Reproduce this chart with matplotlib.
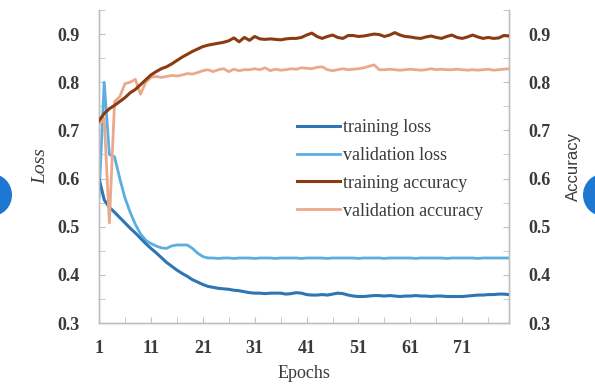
import matplotlib
matplotlib.use("Agg")
import matplotlib.pyplot as plt
from matplotlib.patches import Ellipse
from matplotlib.ticker import MultipleLocator, FixedLocator

epochs = list(range(1, 81))

training_loss = [
    0.600, 0.556, 0.540, 0.530, 0.519, 0.508, 0.497, 0.487, 0.476, 0.465,
    0.455, 0.446, 0.436, 0.426, 0.418, 0.410, 0.403, 0.397, 0.390, 0.385,
    0.380, 0.376, 0.374, 0.372, 0.371, 0.370, 0.368, 0.367, 0.365, 0.363,
    0.362, 0.362, 0.361, 0.362, 0.362, 0.362, 0.360, 0.361, 0.363, 0.362,
    0.359, 0.358, 0.358, 0.359, 0.358, 0.360, 0.362, 0.361, 0.358, 0.356,
    0.355, 0.355, 0.356, 0.357, 0.357, 0.356, 0.357, 0.356, 0.355, 0.356,
    0.356, 0.357, 0.356, 0.356, 0.355, 0.356, 0.356, 0.355, 0.355, 0.355,
    0.355, 0.356, 0.357, 0.358, 0.358, 0.359, 0.359, 0.360, 0.360, 0.359,
]

validation_loss = [
    0.560, 0.800, 0.650, 0.645, 0.600, 0.560, 0.530, 0.505, 0.485, 0.472,
    0.465, 0.460, 0.456, 0.455, 0.460, 0.462, 0.462, 0.462, 0.455, 0.445,
    0.438, 0.435, 0.435, 0.434, 0.435, 0.435, 0.434, 0.435, 0.435, 0.435,
    0.434, 0.435, 0.435, 0.435, 0.434, 0.435, 0.435, 0.435, 0.435, 0.434,
    0.435, 0.435, 0.435, 0.435, 0.434, 0.435, 0.435, 0.435, 0.435, 0.435,
    0.434, 0.435, 0.435, 0.435, 0.435, 0.434, 0.435, 0.435, 0.435, 0.435,
    0.435, 0.434, 0.435, 0.435, 0.435, 0.435, 0.435, 0.434, 0.435, 0.435,
    0.435, 0.435, 0.435, 0.434, 0.435, 0.435, 0.435, 0.435, 0.435, 0.435,
]

training_accuracy = [
    0.720, 0.735, 0.745, 0.752, 0.760, 0.768, 0.778, 0.785, 0.795, 0.805,
    0.815, 0.822, 0.828, 0.832, 0.838, 0.845, 0.852, 0.858, 0.864, 0.869,
    0.874, 0.877, 0.879, 0.881, 0.883, 0.886, 0.892, 0.884, 0.893, 0.887,
    0.895, 0.890, 0.889, 0.890, 0.889, 0.888, 0.890, 0.891, 0.891, 0.893,
    0.898, 0.902, 0.895, 0.891, 0.895, 0.898, 0.893, 0.891, 0.897, 0.897,
    0.895, 0.896, 0.898, 0.900, 0.899, 0.895, 0.898, 0.903, 0.898, 0.895,
    0.894, 0.892, 0.891, 0.894, 0.896, 0.893, 0.891, 0.895, 0.898, 0.893,
    0.891, 0.894, 0.898, 0.894, 0.891, 0.893, 0.891, 0.892, 0.897, 0.896,
]

validation_accuracy = [
    0.712, 0.725, 0.508, 0.760, 0.770, 0.797, 0.800, 0.806, 0.775, 0.800,
    0.810, 0.812, 0.810, 0.812, 0.814, 0.813, 0.815, 0.818, 0.817, 0.820,
    0.824, 0.826, 0.822, 0.826, 0.828, 0.822, 0.827, 0.824, 0.826, 0.826,
    0.828, 0.826, 0.830, 0.824, 0.827, 0.825, 0.826, 0.828, 0.827, 0.830,
    0.829, 0.828, 0.831, 0.832, 0.826, 0.824, 0.826, 0.828, 0.826, 0.827,
    0.828, 0.830, 0.833, 0.836, 0.826, 0.826, 0.827, 0.826, 0.825, 0.826,
    0.827, 0.826, 0.825, 0.826, 0.828, 0.826, 0.827, 0.826, 0.826, 0.827,
    0.826, 0.825, 0.826, 0.825, 0.826, 0.827, 0.825, 0.826, 0.827, 0.828,
]

x_tick_labels = [1, 11, 21, 31, 41, 51, 61, 71]
y_ticks = [0.3, 0.4, 0.5, 0.6, 0.7, 0.8, 0.9]

SERIF = ["Liberation Serif", "DejaVu Serif"]
SANS = ["Liberation Sans", "DejaVu Sans"]
GRAY = "#BFBFBF"
TXT = "#3A3A3A"

fig = plt.figure(figsize=(5.95, 3.86), dpi=100)
ax = fig.add_axes([99 / 595, 1 - 323 / 386, (509 - 99) / 595, (323 - 10) / 386])
ax2 = ax.twinx()

c_tl = "#2E75B6"
c_vl = "#5BAFE0"
c_ta = "#8B3A12"
c_va = "#EBA98C"

l1, = ax.plot(epochs, training_loss, color=c_tl, lw=2.2, label="training loss", zorder=3)
l2, = ax.plot(epochs, validation_loss, color=c_vl, lw=2.0, label="validation loss", zorder=2)
l3, = ax2.plot(epochs, training_accuracy, color=c_ta, lw=2.2, label="training accuracy", zorder=3)
l4, = ax2.plot(epochs, validation_accuracy, color=c_va, lw=2.0, label="validation accuracy", zorder=2)

for a in (ax, ax2):
    a.set_xlim(1, 80)
    a.set_ylim(0.3, 0.95)
    a.spines["top"].set_visible(False)
    for s in ("left", "right", "bottom"):
        a.spines[s].set_color(GRAY)
        a.spines[s].set_linewidth(1.0)

ax.set_yticks(y_ticks)
ax.yaxis.set_minor_locator(MultipleLocator(0.05))
ax2.set_yticks(y_ticks)
ax2.yaxis.set_minor_locator(MultipleLocator(0.05))
ax.set_yticklabels([f"{v:.1f}" for v in y_ticks], family=SERIF, fontsize=13, fontweight="bold", color=TXT)
ax2.set_yticklabels([f"{v:.1f}" for v in y_ticks], family=SERIF, fontsize=13, fontweight="bold", color=TXT)

ax.set_xticks(x_tick_labels)
ax.set_xticklabels([str(v) for v in x_tick_labels], family=SERIF, fontsize=13, fontweight="bold", color=TXT)
ax.xaxis.set_minor_locator(FixedLocator(list(range(6, 81, 10))))

ax.tick_params(axis="x", which="both", direction="in", length=4, color=GRAY, pad=12)
ax.tick_params(axis="y", which="both", direction="in", length=4, color=GRAY, pad=14)
ax2.tick_params(axis="y", which="both", direction="in", length=4, color=GRAY, pad=14)

ax.set_xlabel("Epochs", family=SERIF, fontsize=13, color=TXT, labelpad=6)
ax.set_ylabel("Loss", family=SERIF, fontsize=14, style="italic", color=TXT, labelpad=6)
ax2.set_ylabel("Accuracy", family=SANS, fontsize=12, color=TXT, labelpad=11)

leg = ax2.legend(handles=[l1, l2, l3, l4], loc="upper left",
                 bbox_to_anchor=((297 - 99) / 410, (323 - 119) / 313),
                 frameon=False, prop={"family": SERIF, "size": 13},
                 handlelength=2.4, handletextpad=0.15, labelspacing=0.6,
                 borderaxespad=0, borderpad=0)
for t in leg.get_texts():
    t.set_color(TXT)

for cx in (-8, 603):
    fig.patches.append(Ellipse((cx / 595, 1 - 195 / 386), 40 / 595, 42 / 386,
                               transform=fig.transFigure, facecolor="#1E78D2",
                               edgecolor="none", figure=fig))

fig.savefig("out.png", dpi=100)
